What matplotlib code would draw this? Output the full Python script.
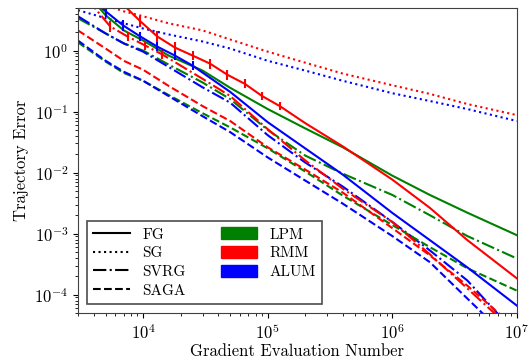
import numpy as np
from matplotlib import pyplot as plt
from matplotlib.lines import Line2D
from matplotlib.patches import Patch

plt.rcParams['font.family'] = 'serif'
plt.rcParams['font.serif'] = ['cmr10']
plt.rcParams['mathtext.fontset'] = 'cm'
plt.rcParams['axes.formatter.use_mathtext'] = True

# common sampling of gradient evaluations
evals = [3e3, 5e3, 7e3, 1e4, 1.6e4, 3e4, 5e4, 1e5, 2e5, 4e5, 1e6, 2e6, 4e6, 1e7]

# SG
rmm_sg = [7.2, 5.5, 4.4, 3.65, 2.8, 2.14, 1.52, 0.96, 0.633, 0.42, 0.27, 0.195, 0.133, 0.0875]
alum_sg = [4.6, 3.4, 2.8, 2.3, 1.84, 1.41, 1.08, 0.68, 0.47, 0.32, 0.20, 0.149, 0.11, 0.07]

# FG
lpm_fg = [12.8, 3.79, 2.14, 1.46, 0.83, 0.47, 0.245, 0.11, 0.053, 0.026, 8.9e-3, 4.3e-3, 2.2e-3, 9.4e-4]
rmm_fg_x = [3e3, 5e3, 7e3, 9.5e3, 1.3e4, 1.8e4, 2.5e4, 3.45e4, 4.75e4, 6.55e4, 9e4, 1.25e5,
            2e5, 4e5, 1e6, 2e6, 4e6, 1e7]
rmm_fg = [40, 12.8, 5.54, 3.02, 1.70, 1.12, 0.827, 0.61, 0.401, 0.285, 0.18, 0.123,
          0.0646, 0.0269, 7.66e-3, 2.64e-3, 7.81e-4, 1.84e-4]
rmm_fg_spread = [1, 1, 1, 1.22, 1.22, 1.22, 1.2, 1.2, 1.2, 1.18, 1.18, 1.16,
                 1, 1, 1, 1, 1, 1]
alum_fg_x = [3e3, 5e3, 6.9e3, 9.5e3, 1.3e4, 1.8e4, 2.5e4, 5e4, 1e5, 2e5, 4e5, 1e6, 2e6, 4e6, 1e7]
alum_fg = [10.6, 4.41, 2.59, 1.70, 1.16, 0.827, 0.565, 0.21, 0.067, 0.0249, 9.27e-3,
           2.18e-3, 7.81e-4, 2.79e-4, 6.58e-5]
alum_fg_spread = [1, 1.22, 1.22, 1.2, 1.2, 1.2, 1.18, 1, 1, 1, 1, 1, 1, 1, 1]

# SVRG
lpm_svrg = [3.38, 1.91, 1.31, 1.0, 0.59, 0.30, 0.16, 0.05, 0.019, 9.6e-3, 4.3e-3, 2.0e-3, 9.1e-4, 3.9e-4]
alum_svrg = [3.65, 1.91, 1.31, 0.96, 0.54, 0.25, 0.14, 0.041, 0.0146, 5.9e-3, 1.55e-3, 5.3e-4, 1.7e-4, 2.2e-5]
rmm_svrg_x = [3e3, 5.44e3, 7.5e3, 1.04e4, 1.43e4, 3e4, 5e4, 1e5, 2e5, 4e5, 1e6, 2e6, 4e6, 1e7]
rmm_svrg = [10.6, 2.49, 1.70, 1.21, 0.859, 0.344, 0.18, 0.0514, 0.0158, 5.44e-3, 1.55e-3,
            4.58e-4, 1.26e-4, 2.27e-5]
rmm_svrg_spread = [1, 1.22, 1.2, 1.2, 1.18, 1, 1, 1, 1, 1, 1, 1, 1, 1]

# SAGA
lpm_saga = [1.36, 0.66, 0.43, 0.32, 0.187, 0.094, 0.055, 0.025, 0.0104, 4.2e-3, 1.38e-3, 6e-4, 2.7e-4, 1.16e-4]
rmm_saga = [2.14, 1.08, 0.68, 0.485, 0.264, 0.123, 0.07, 0.026, 0.0112, 4.7e-3, 1.23e-3, 4.4e-4, 1.4e-4, 2.7e-5]
alum_saga = [1.46, 0.68, 0.45, 0.32, 0.18, 0.084, 0.046, 0.0177, 7.4e-3, 3.1e-3, 9.1e-4, 3.4e-4, 8.6e-5, 1.4e-5]

methods = ["LPM", "RMM", "ALUM"]
colors = {"LPM": "g", "RMM": "r", "ALUM": "b"}
lw = 1.5


def with_bars(ax, x, y, spread, color, ls):
    y = np.array(y)
    s = np.array(spread)
    err = [y - y / s, y * s - y]
    ax.errorbar(x, y, yerr=err, color=color, ls=ls, lw=lw, elinewidth=lw, capsize=0)


fig = plt.figure(figsize=(5.29, 3.61), dpi=100)
ax = fig.add_axes([0.1474, 0.133, 0.8299, 0.845])

ax.plot(evals, rmm_sg, color=colors["RMM"], ls=':', lw=lw)
ax.plot(evals, alum_sg, color=colors["ALUM"], ls=':', lw=lw)

ax.plot(evals, lpm_fg, color=colors["LPM"], ls='-', lw=lw)
with_bars(ax, rmm_fg_x, rmm_fg, rmm_fg_spread, colors["RMM"], '-')
with_bars(ax, alum_fg_x, alum_fg, alum_fg_spread, colors["ALUM"], '-')

ax.plot(evals, lpm_svrg, color=colors["LPM"], ls='-.', lw=lw)
with_bars(ax, rmm_svrg_x, rmm_svrg, rmm_svrg_spread, colors["RMM"], '-.')
ax.plot(evals, alum_svrg, color=colors["ALUM"], ls='-.', lw=lw)

ax.plot(evals, lpm_saga, color=colors["LPM"], ls='--', lw=lw)
ax.plot(evals, rmm_saga, color=colors["RMM"], ls='--', lw=lw)
ax.plot(evals, alum_saga, color=colors["ALUM"], ls='--', lw=lw)

ax.set_xscale('log')
ax.set_yscale('log')
ax.set_xlim(3e3, 1e7)
ax.set_ylim(5e-5, 5)
ax.set_xlabel("Gradient Evaluation Number", fontsize=12, labelpad=1)
ax.set_ylabel("Trajectory Error", fontsize=12)
ax.tick_params(labelsize=12)
for sp in ax.spines.values():
    sp.set_color('0.25')

handles = [Line2D([], [], color='k', ls='-', lw=lw),
           Line2D([], [], color='k', ls=':', lw=lw),
           Line2D([], [], color='k', ls='-.', lw=lw),
           Line2D([], [], color='k', ls='--', lw=lw)]
labels = ["FG", "SG", "SVRG", "SAGA"]
for m in methods:
    handles.append(Patch(color=colors[m]))
    labels.append(m)
handles.append(Patch(color='none'))
labels.append("")

leg = ax.legend(handles, labels, ncol=2, loc='lower left', fontsize=11,
                fancybox=False, framealpha=1, edgecolor='0.3',
                handlelength=2.4, handleheight=0.8, columnspacing=2.3,
                labelspacing=0.3, borderaxespad=0.6)
leg.get_frame().set_linewidth(1.2)

fig.savefig("out.png", dpi=100)
